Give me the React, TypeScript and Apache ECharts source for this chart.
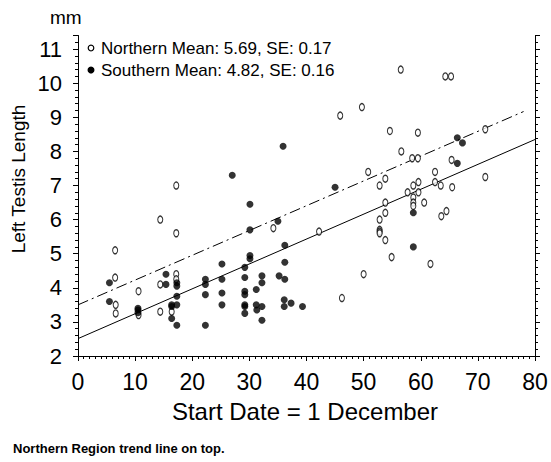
import React, { useEffect, useRef } from "react";
import * as echarts from "echarts";

const northern: number[][] = [
  [6.5, 5.1], [6.5, 4.3], [6.6, 3.5], [6.6, 3.25], [10.6, 3.9], [10.6, 3.2],
  [14.4, 6.0], [14.4, 4.1], [14.4, 3.3], [16.4, 3.3], [17.2, 7.0], [17.2, 5.6],
  [17.2, 4.4], [17.2, 4.25], [34.2, 5.75], [42.2, 5.65], [45.9, 9.05], [46.2, 3.7],
  [49.7, 9.3], [50.0, 4.4], [50.8, 7.4], [52.8, 7.0], [52.8, 6.0], [52.8, 5.7],
  [52.8, 5.65], [52.8, 5.6], [53.8, 7.2], [53.8, 6.5], [53.8, 6.2], [53.8, 5.4],
  [54.6, 8.6], [54.9, 4.9], [56.5, 10.4], [56.6, 8.0], [57.7, 6.8], [58.5, 7.8],
  [58.7, 7.0], [58.7, 6.65], [58.7, 6.5], [58.7, 6.4], [59.5, 8.55], [59.5, 7.8],
  [59.6, 7.1], [59.6, 6.8], [60.6, 6.5], [61.7, 4.7], [62.5, 7.4], [62.5, 7.1],
  [63.5, 7.0], [63.6, 6.1], [64.3, 10.2], [64.5, 6.25], [65.3, 10.2], [65.4, 7.75],
  [65.5, 6.95], [71.3, 8.65], [71.3, 7.25],
];

const southern: number[][] = [
  [5.5, 4.15], [5.5, 3.6], [10.5, 3.4], [10.5, 3.35], [10.5, 3.27], [15.4, 4.4],
  [15.4, 4.1], [16.4, 3.5], [16.4, 3.45], [16.4, 3.1], [17.3, 4.15], [17.3, 4.05],
  [17.3, 3.75], [17.3, 3.5], [17.3, 2.9], [22.3, 4.25], [22.3, 4.1], [22.3, 3.8],
  [22.3, 2.9], [25.2, 4.7], [25.2, 4.25], [25.2, 3.85], [25.2, 3.5], [27.0, 7.3],
  [29.2, 4.6], [29.2, 4.3], [29.2, 3.9], [29.2, 3.8], [29.2, 3.5], [29.2, 3.45],
  [29.2, 3.25], [30.1, 6.45], [30.1, 5.7], [30.1, 4.95], [30.1, 4.85], [31.2, 3.95],
  [31.2, 3.5], [31.3, 3.35], [32.2, 4.35], [32.2, 4.15], [32.2, 3.45], [32.2, 3.05],
  [35.0, 5.95], [35.2, 4.35], [35.9, 8.15], [36.2, 5.25], [36.2, 4.75], [36.2, 4.25],
  [36.1, 3.65], [36.1, 3.45], [37.3, 3.55], [39.3, 3.45], [45.0, 6.95], [58.7, 6.2],
  [58.7, 5.2], [66.4, 8.4], [66.4, 7.65], [67.3, 8.25],
];

const northernTrend: number[][] = [[0, 3.5], [78, 9.17]];
const southernTrend: number[][] = [[0, 2.51], [80, 8.35]];

const legendTexts = ["Northern Mean: 5.69, SE: 0.17", "Southern Mean: 4.82, SE: 0.16"];
const yAxisTitle = "Left Testis Length";
const xAxisTitle = "Start Date = 1 December";
const unitText = "mm";
const footnote = "Northern Region trend line on top.";

const FONT = "'Liberation Sans', Arial, sans-serif";

export default function App() {
  const ref = useRef<HTMLDivElement>(null);
  useEffect(() => {
    document.body.style.margin = "0";
    const chart = echarts.init(ref.current!, undefined, { renderer: "svg" });
    const yCommon = {
      type: "value" as const,
      min: 2,
      max: 11.4,
      interval: 1,
      splitLine: { show: false },
      axisLine: { show: true, lineStyle: { color: "#000", width: 1 } },
      axisTick: { show: true, length: 5, lineStyle: { color: "#000" } },
      minorTick: { show: true, splitNumber: 5, length: 3, lineStyle: { color: "#000" } },
    };
    chart.setOption({
      animation: false,
      backgroundColor: "#fff",
      grid: { left: 78, right: 16, top: 35.5, bottom: 106 },
      xAxis: {
        type: "value",
        min: 0,
        max: 80,
        interval: 10,
        splitLine: { show: false },
        axisLine: { show: true, onZero: false, lineStyle: { color: "#000", width: 1 } },
        axisTick: { show: true, length: 5, lineStyle: { color: "#000" } },
        minorTick: { show: true, splitNumber: 10, length: 3, lineStyle: { color: "#000" } },
        axisLabel: { color: "#000", fontSize: 23, fontFamily: FONT, margin: 14 },
      },
      yAxis: [
        {
          ...yCommon,
          position: "left",
          axisLabel: {
            color: "#000",
            fontSize: 22,
            fontFamily: FONT,
            margin: 16,
            showMaxLabel: false,
            formatter: (v: number) => (Number.isInteger(v) ? String(v) : ""),
          },
        },
        {
          ...yCommon,
          position: "right",
          axisLabel: { show: false },
        },
      ],
      series: [
        {
          type: "line",
          data: southernTrend,
          showSymbol: false,
          symbol: "none",
          lineStyle: { color: "#000", width: 1, type: "solid" },
          z: 1,
        },
        {
          type: "line",
          data: northernTrend,
          showSymbol: false,
          symbol: "none",
          lineStyle: { color: "#000", width: 1, type: [11, 4, 2, 4] },
          z: 1,
        },
        {
          type: "scatter",
          data: northern,
          symbol: "circle",
          symbolSize: [5, 7],
          itemStyle: { color: "#fff", borderColor: "#000", borderWidth: 1.2 },
          z: 3,
        },
        {
          type: "scatter",
          data: southern,
          symbol: "circle",
          symbolSize: 7,
          itemStyle: { color: "#000" },
          z: 4,
        },
      ],
      graphic: [
        {
          type: "text",
          left: 50,
          top: 8,
          style: { text: unitText, font: `19px ${FONT}`, fill: "#000" },
        },
        {
          type: "circle",
          shape: { cx: 91, cy: 48, r: 2.8 },
          style: { fill: "#fff", stroke: "#000", lineWidth: 1.2 },
        },
        {
          type: "circle",
          shape: { cx: 91, cy: 70, r: 3.5 },
          style: { fill: "#000" },
        },
        {
          type: "text",
          x: 101,
          y: 48,
          style: { text: legendTexts[0], font: `17px ${FONT}`, fill: "#000", textVerticalAlign: "middle" },
        },
        {
          type: "text",
          x: 101,
          y: 70,
          style: { text: legendTexts[1], font: `17px ${FONT}`, fill: "#000", textVerticalAlign: "middle" },
        },
        {
          type: "text",
          x: 18,
          y: 179,
          rotation: Math.PI / 2,
          style: {
            text: yAxisTitle,
            font: `19px ${FONT}`,
            fill: "#000",
            textAlign: "center",
            textVerticalAlign: "middle",
          },
        },
        {
          type: "text",
          x: 305,
          y: 411,
          style: {
            text: xAxisTitle,
            font: `24px ${FONT}`,
            fill: "#000",
            textAlign: "center",
            textVerticalAlign: "middle",
          },
        },
        {
          type: "text",
          x: 13,
          y: 448,
          style: {
            text: footnote,
            font: `bold 13px ${FONT}`,
            fill: "#000",
            textVerticalAlign: "middle",
          },
        },
      ],
    });
    return () => chart.dispose();
  }, []);
  return <div ref={ref} style={{ width: 551, height: 462 }} />;
}
